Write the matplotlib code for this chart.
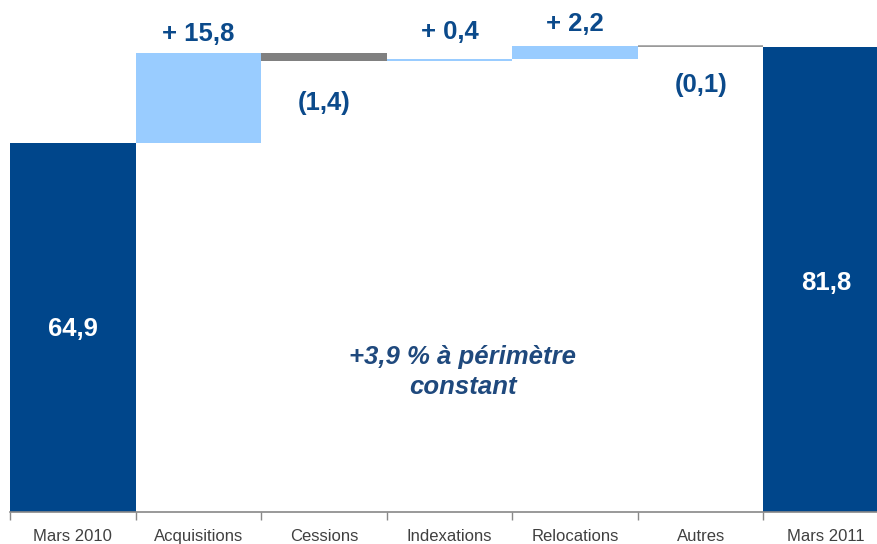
import matplotlib.pyplot as plt

categories = ['Mars 2010', 'Acquisitions', 'Cessions', 'Indexations', 'Relocations', 'Autres', 'Mars 2011']
changes = [64.9, 15.8, -1.4, 0.4, 2.2, -0.1, 81.8]
labels = ['64,9', '+ 15,8', '(1,4)', '+ 0,4', '+ 2,2', '(0,1)', '81,8']
kinds = ['total', 'up', 'down', 'up', 'up', 'down', 'total']
# label offsets from the bar end (data units)
label_offsets = [-0.3, 3.35, -7.4, 4.75, 3.95, -6.7, -0.3]

DARK = '#00468B'
LIGHT = '#99CCFF'
GREY = '#808080'
TXT = '#0B4A8B'

plt.rcParams['font.family'] = ['Liberation Sans', 'DejaVu Sans']

fig = plt.figure(figsize=(8.77, 5.44), dpi=100)
ax = fig.add_axes([10 / 877, 32 / 544, 879 / 877, 512 / 544])

running = 0.0
bottoms, heights, colors = [], [], []
for val, kind in zip(changes, kinds):
    if kind == 'total':
        bottoms.append(0)
        heights.append(val)
        colors.append(DARK)
        running = val
    elif kind == 'up':
        bottoms.append(running)
        heights.append(val)
        colors.append(LIGHT)
        running += val
    else:
        running += val
        bottoms.append(running)
        heights.append(-val)
        colors.append(GREY)

x = list(range(len(categories)))
ax.bar(x, heights, bottom=bottoms, width=1.0, color=colors, linewidth=0)
# the tiny "Autres" step shows as a thin grey line
ax.hlines(bottoms[5] + heights[5], x[5] - 0.5, x[5] + 0.5, color='#A0A0A0', lw=1.2)

# value labels
for i, (lab, kind) in enumerate(zip(labels, kinds)):
    if kind == 'total':
        y = heights[i] / 2
        if i == 6:
            y = 40.6
        ax.text(i, y + label_offsets[i], lab, ha='center', va='center',
                color='white', fontsize=18.5, fontweight='bold')
    elif kind == 'up':
        ax.text(i, bottoms[i] + heights[i] + label_offsets[i], lab, ha='center',
                va='center', color=TXT, fontsize=18.5, fontweight='bold')
    else:
        ax.text(i, bottoms[i] + label_offsets[i], lab, ha='center', va='center',
                color=TXT, fontsize=18.5, fontweight='bold')

ax.text(3.107, 24.6, '+3,9 % à périmètre\nconstant', ha='center', va='center',
        color='#1F497D', fontsize=18.5, fontweight='bold', style='italic',
        linespacing=1.35)

ax.set_xlim(-0.5, 6.5)
ax.set_ylim(0, 90.05)
ax.set_xticks([i - 0.5 for i in range(8)])
ax.set_xticklabels([])
ax.set_xticks(x, minor=True)
ax.set_xticklabels(categories, minor=True)
ax.tick_params(axis='x', which='major', length=6, width=1, color='#888888', direction='out')
ax.tick_params(axis='x', which='minor', length=0, labelsize=12, labelcolor='#404040', pad=12)
ax.set_yticks([])
for s in ['top', 'right', 'left']:
    ax.spines[s].set_visible(False)
ax.spines['bottom'].set_color('#888888')
ax.spines['bottom'].set_linewidth(1.2)

fig.savefig('out.png', dpi=100)
